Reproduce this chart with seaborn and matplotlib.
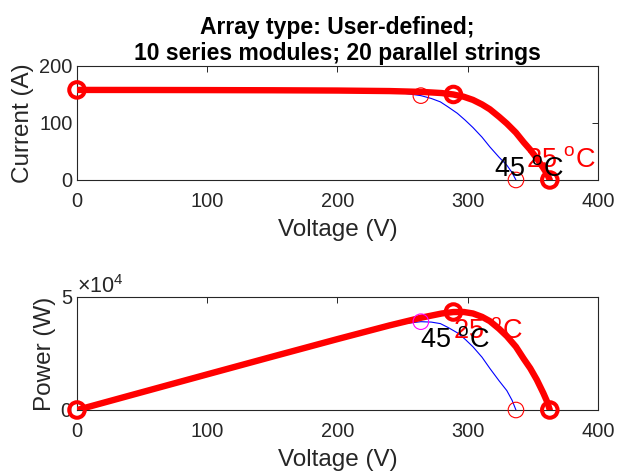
import numpy as np
import pandas as pd
import matplotlib
matplotlib.use("Agg")
import matplotlib.pyplot as plt
import seaborn as sns

# ---- data ----
V25 = [0, 50, 100, 150, 200, 240, 265, 280, 289, 297, 304, 311, 317, 324, 330, 337, 343, 348, 353, 358, 361, 363]
I25 = [158, 157.9, 157.7, 157.4, 156.9, 156.0, 154.5, 152.5, 150.0, 146.0, 140.5, 132.5, 124, 111, 99, 83, 66, 53, 38, 21, 10, 0]
V45 = [0, 50, 100, 150, 200, 230, 250, 264, 272, 279, 285, 292, 298, 304, 311, 317, 324, 330, 334, 337]
I45 = [158.5, 158.4, 158.2, 157.8, 157, 155.5, 152.5, 148, 143, 137, 128, 117, 105, 92, 75, 58, 40, 26, 13, 0]
# key points (Isc, MPP, Voc) indices
MPP25_IDX = 8
MPP45_IDX = 7

TITLE = "Array type: User-defined;\n10 series modules; 20 parallel strings"
LABEL25 = "25 $^{\\mathrm{o}}$C"
LABEL45 = "45 $^{\\mathrm{o}}$C"
XTICKS = [0, 100, 200, 300, 400]
YTICKS_I = [0, 100, 200]
YTICKS_P = [0, 50000]

sns.set_theme(style="white")
plt.rcParams["font.family"] = ["Liberation Sans", "DejaVu Sans"]
plt.rcParams["mathtext.fontset"] = "custom"
plt.rcParams["mathtext.rm"] = "Liberation Sans"
plt.rcParams["mathtext.it"] = "Liberation Sans:italic"
plt.rcParams["mathtext.bf"] = "Liberation Sans:bold"

V25a = np.array(V25, float); I25a = np.array(I25, float)
V45a = np.array(V45, float); I45a = np.array(I45, float)
P25 = V25a * I25a
P45 = V45a * I45a

df25 = pd.DataFrame({"V": V25a, "I": I25a, "P": P25})
df45 = pd.DataFrame({"V": V45a, "I": I45a, "P": P45})

fig = plt.figure(figsize=(6.17, 4.73), dpi=100)
ax1 = fig.add_axes([0.1248, 0.6195, 0.8444, 0.2410])
ax2 = fig.add_axes([0.1248, 0.1332, 0.8444, 0.2389])

AX_COL = "#262626"
TICK_FS = 14.4
LAB_FS = 17.5
TXT_FS = 19.5

def key_points(df, mpp_idx):
    return df.iloc[[0, mpp_idx, len(df) - 1]]

def draw(ax, ycol):
    sns.lineplot(data=df45, x="V", y=ycol, sort=False, estimator=None, ax=ax,
                 color="blue", lw=0.8, zorder=2)
    sns.lineplot(data=df25, x="V", y=ycol, sort=False, estimator=None, ax=ax,
                 color="red", lw=4.6, zorder=3, solid_capstyle="round")
    k25 = key_points(df25, MPP25_IDX)
    sns.scatterplot(data=k25, x="V", y=ycol, ax=ax, s=125, facecolors="none",
                    edgecolor="red", linewidth=2.9, zorder=5, clip_on=False)
    k45 = key_points(df45, MPP45_IDX)
    if ycol == "I":
        sns.scatterplot(data=k45, x="V", y=ycol, ax=ax, s=125, facecolors="none",
                        edgecolor="red", linewidth=0.8, zorder=4, clip_on=False)
    else:
        sns.scatterplot(data=k45.iloc[[0, 2]], x="V", y=ycol, ax=ax, s=125, facecolors="none",
                        edgecolor="red", linewidth=0.8, zorder=4, clip_on=False)
        sns.scatterplot(data=k45.iloc[[1]], x="V", y=ycol, ax=ax, s=125, facecolors="none",
                        edgecolor="magenta", linewidth=0.8, zorder=4, clip_on=False)

draw(ax1, "I")
draw(ax2, "P")

# annotations
ax1.text(V25[-1] - 18, 23, LABEL25, color="red", fontsize=TXT_FS, ha="left", va="baseline", zorder=6)
ax1.text(V45[-1] - 16.5, 7, LABEL45, color="black", fontsize=TXT_FS, ha="left", va="baseline", zorder=7)
ax2.text(V25[MPP25_IDX], 31900, LABEL25, color="red", fontsize=TXT_FS, ha="left", va="baseline", zorder=6)
ax2.text(V45[MPP45_IDX] - 1, 28000, LABEL45, color="black", fontsize=TXT_FS, ha="left", va="baseline", zorder=7)

for ax, yt, ylim, ylab in [(ax1, YTICKS_I, (0, 200), "Current (A)"),
                           (ax2, YTICKS_P, (0, 50000), "Power (W)")]:
    ax.set_xlim(0, 400)
    ax.set_ylim(*ylim)
    ax.set_xticks(XTICKS)
    ax.set_yticks(yt)
    ax.set_xlabel("Voltage (V)", fontsize=LAB_FS, color=AX_COL, labelpad=6)
    ax.set_ylabel(ylab, fontsize=LAB_FS, color=AX_COL)
    ax.tick_params(direction="in", length=4, width=0.7, colors=AX_COL,
                   labelsize=TICK_FS, top=True, right=True)
    ax.tick_params(axis="x", pad=8.5)
    ax.tick_params(axis="y", pad=3)
    for sp in ax.spines.values():
        sp.set_visible(True)
        sp.set_color(AX_COL)
        sp.set_linewidth(0.8)
    ax.set_facecolor("white")

ax1.yaxis.set_label_coords(-0.082, 0.5)
ax2.yaxis.set_label_coords(-0.040, 0.5)

ax2.ticklabel_format(axis="y", style="sci", scilimits=(0, 0), useMathText=True)
ax2.yaxis.get_offset_text().set_fontsize(15.5)
ax2.yaxis.get_offset_text().set_color(AX_COL)

ax1.set_title(TITLE, fontsize=16.5, fontweight="bold", color="black", pad=4.5, linespacing=1.15)

fig.savefig("out.png", dpi=100, facecolor="white")
